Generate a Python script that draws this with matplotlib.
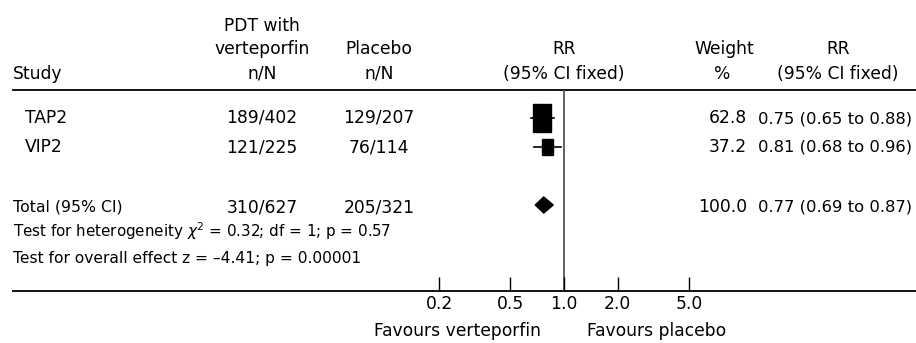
import matplotlib
matplotlib.use('Agg')
import matplotlib.pyplot as plt
from matplotlib.patches import Rectangle, Polygon
import numpy as np

# data
studies = ['TAP2', 'VIP2']
treat_n = ['189/402', '121/225']
placebo_n = ['129/207', '76/114']
weights = [62.8, 37.2]
rr = [0.75, 0.81]
ci_low = [0.65, 0.68]
ci_high = [0.88, 0.96]

total_label = 'Total (95% CI)'
total_treat = '310/627'
total_placebo = '205/321'
total_weight = 100.0
total_rr = 0.77
total_low = 0.69
total_high = 0.87

heterogeneity = r'Test for heterogeneity $\chi^2$ = 0.32; df = 1; p = 0.57'
overall = 'Test for overall effect z = \u20134.41; p = 0.00001'

ticks = [0.2, 0.5, 1.0, 2.0, 5.0]
tick_labels = ['0.2', '0.5', '1.0', '2.0', '5.0']

W, H = 916, 343
FS = 12.3        # headers, counts, ticks
FS_RR = 11.8     # right-hand RR column
plt.rcParams['font.family'] = ['DejaVu Sans']

fig = plt.figure(figsize=(W / 100, H / 100), dpi=100)

# overlay axes in pixel coordinates for the table text
ax = fig.add_axes([0, 0, 1, 1])
ax.set_xlim(0, W)
ax.set_ylim(H, 0)
ax.axis('off')

# forest-plot axes, log scale, 1.0 at x=564 px, ~178.5 px per decade
px_per_dec = 178.5
x_one = 564
left_px, right_px = 400, 720
top_px, bot_px = 90, 291
fx = fig.add_axes([left_px / W, (H - bot_px) / H, (right_px - left_px) / W, (bot_px - top_px) / H])
fx.set_xscale('log')
fx.set_xlim(10 ** ((left_px - x_one) / px_per_dec), 10 ** ((right_px - x_one) / px_per_dec))
fx.set_ylim(bot_px, top_px)
fx.patch.set_visible(False)
for s in fx.spines.values():
    s.set_visible(False)
fx.set_yticks([])
fx.minorticks_off()
fx.set_xticks(ticks)
fx.set_xticklabels(tick_labels, fontsize=FS)
fx.tick_params(axis='x', direction='in', length=10, width=1.0, pad=3, colors='black')

# horizontal rules
ax.plot([13, W], [top_px, top_px], color='black', lw=1.3)
ax.plot([13, W], [bot_px, bot_px], color='black', lw=1.3)

# line of no effect
fx.plot([1, 1], [top_px, bot_px], color='#555555', lw=1.3, zorder=1)

# header
ax.text(13, 79, 'Study', fontsize=FS, va='baseline', ha='left')
ax.text(262, 31, 'PDT with', fontsize=FS, va='baseline', ha='center')
ax.text(262, 54, 'verteporfin', fontsize=FS, va='baseline', ha='center')
ax.text(262, 79, 'n/N', fontsize=FS, va='baseline', ha='center')
ax.text(379, 54, 'Placebo', fontsize=FS, va='baseline', ha='center')
ax.text(379, 79, 'n/N', fontsize=FS, va='baseline', ha='center')
ax.text(564, 54, 'RR', fontsize=FS, va='baseline', ha='center')
ax.text(564, 79, '(95% CI fixed)', fontsize=FS, va='baseline', ha='center')
ax.text(724, 54, 'Weight', fontsize=FS, va='baseline', ha='center')
ax.text(722, 79, '%', fontsize=FS, va='baseline', ha='center')
ax.text(838, 54, 'RR', fontsize=FS, va='baseline', ha='center')
ax.text(838, 79, '(95% CI fixed)', fontsize=FS, va='baseline', ha='center')

# study rows
row_y = [118, 147]
for i, name in enumerate(studies):
    y = row_y[i]
    ax.text(25, y + 5, name, fontsize=FS, va='baseline', ha='left')
    ax.text(262, y + 5, treat_n[i], fontsize=FS, va='baseline', ha='center')
    ax.text(379, y + 5, placebo_n[i], fontsize=FS, va='baseline', ha='center')
    ax.text(747, y + 5, f'{weights[i]:.1f}', fontsize=FS, va='baseline', ha='right')
    ax.text(758, y + 5, f'{rr[i]:.2f} ({ci_low[i]:.2f} to {ci_high[i]:.2f})',
            fontsize=FS_RR, va='baseline', ha='left')
    # CI line
    fx.plot([ci_low[i], ci_high[i]], [y, y], color='black', lw=1.2, zorder=2)
    # box, sides proportional to weight
    bw = weights[i] * 0.29
    bh = weights[i] * 0.43
    lx = np.log10(rr[i])
    x0 = 10 ** (lx - bw / 2 / px_per_dec)
    x1 = 10 ** (lx + bw / 2 / px_per_dec)
    fx.add_patch(Rectangle((x0, y - bh / 2), x1 - x0, bh, color='black', zorder=3))

# total row
ty = 205
ax.text(13, ty + 7, total_label, fontsize=11.3, va='baseline', ha='left')
ax.text(262, ty + 7, total_treat, fontsize=FS, va='baseline', ha='center')
ax.text(379, ty + 7, total_placebo, fontsize=FS, va='baseline', ha='center')
ax.text(747, ty + 7, f'{total_weight:.1f}', fontsize=FS, va='baseline', ha='right')
ax.text(758, ty + 7, f'{total_rr:.2f} ({total_low:.2f} to {total_high:.2f})',
        fontsize=FS_RR, va='baseline', ha='left')
fx.add_patch(Polygon([(total_low, ty), (total_rr, ty - 8), (total_high, ty), (total_rr, ty + 8)],
                     closed=True, color='black', zorder=3))

ax.text(13, 237, heterogeneity, fontsize=10.9, va='baseline', ha='left')
ax.text(13, 263, overall, fontsize=11.2, va='baseline', ha='left')

# favours labels
ax.text(541, 336, 'Favours verteporfin', fontsize=FS, va='baseline', ha='right')
ax.text(587, 336, 'Favours placebo', fontsize=FS, va='baseline', ha='left')

fig.savefig('out.png', dpi=100)
